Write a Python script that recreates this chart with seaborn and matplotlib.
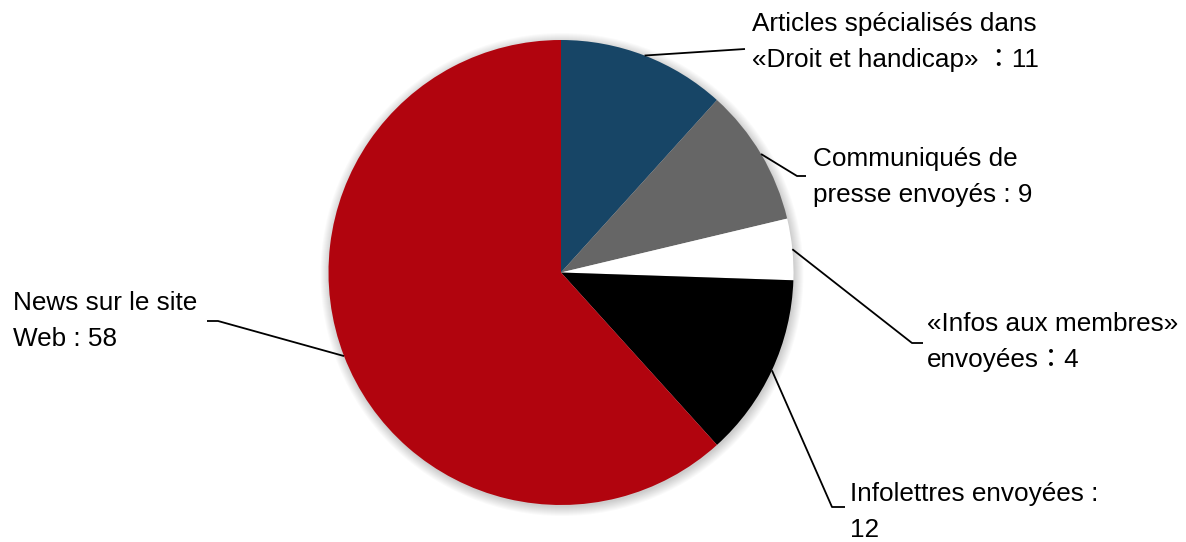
import matplotlib
matplotlib.use("Agg")
import matplotlib.pyplot as plt
import seaborn as sns
import numpy as np
from matplotlib.patches import Circle

sns.set_theme(style="white")
plt.rcParams['font.family'] = ['Liberation Sans', 'Noto Sans CJK JP', 'DejaVu Sans']

categories = [
    "Articles spécialisés dans\n«Droit et handicap» ：11",
    "Communiqués de\npresse envoyés : 9",
    "«Infos aux membres»\nenvoyées：4",
    "Infolettres envoyées :\n12",
    "News sur le site\nWeb : 58",
]
values = [11, 9, 4, 12, 58]
colors = ["#174566", "#666666", "#FFFFFF", "#000000", "#B1040E"]

W, H = 1186, 542
fig = plt.figure(figsize=(W / 100, H / 100), dpi=100)
ax = fig.add_axes([0, 0, 1, 1])

cx, cy, r = 561, H - 272.5, 232.5

# soft shadow / glow
for i in range(10):
    ax.add_patch(Circle((cx + 1, cy - 2), r + 9 - i, color="#000000",
                        alpha=0.02, lw=0, zorder=0))

wedges, _ = ax.pie(values, colors=colors, startangle=90, counterclock=False,
                   center=(cx, cy), radius=r, frame=True,
                   wedgeprops=dict(linewidth=0, zorder=2))
ax.set_xlim(0, W)
ax.set_ylim(0, H)
ax.set_aspect('equal')
ax.axis('off')

# elbow points, horizontal end points, text anchor (pixel coords, top-origin)
layout = [
    ((745, 49), (745, 49), (752, 42)),
    ((797, 176), (806, 176), (813, 177)),
    ((912, 343), (923, 343), (927, 342)),
    ((832, 507), (845, 507), (850, 512)),
    ((218, 321), (207, 321), (13, 321)),
]

for w, lab, (elb, end, txt) in zip(wedges, categories, layout):
    ang = np.deg2rad((w.theta1 + w.theta2) / 2)
    ex, ey = cx + r * np.cos(ang), cy + r * np.sin(ang)
    xs = [ex, elb[0], end[0]]
    ys = [ey, H - elb[1], H - end[1]]
    ax.plot(xs, ys, color="black", lw=1.3, zorder=3, solid_capstyle='butt')
    ax.text(txt[0], H - txt[1], lab, ha='left', va='center', fontsize=18.8,
            color="black", linespacing=1.66, zorder=4)

fig.savefig("out.png", dpi=100)
